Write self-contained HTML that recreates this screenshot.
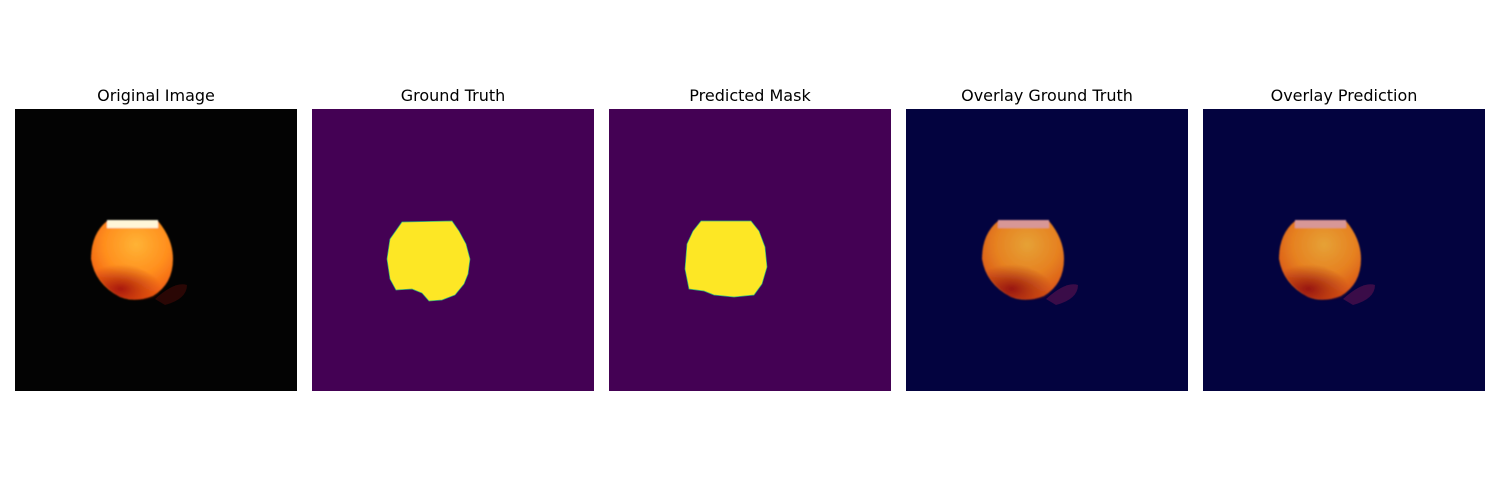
<!DOCTYPE html>
<html><head><meta charset="utf-8"><style>
body{margin:0;background:#fff;width:1500px;height:500px;position:relative;overflow:hidden;font-family:"DejaVu Sans","Liberation Sans",sans-serif;}
.t{position:absolute;top:86px;width:282px;text-align:center;font-size:16px;color:#000;font-family:"DejaVu Sans","Liberation Sans",sans-serif;}
svg{position:absolute;top:109px;width:282px;height:282px;}
</style></head><body>
<svg width="0" height="0" style="position:absolute">
<defs>
<radialGradient id="eg" cx="0.55" cy="0.3" r="0.7">
<stop offset="0" stop-color="#ffb335"/><stop offset="0.55" stop-color="#ff8f1e"/><stop offset="1" stop-color="#f05a10"/>
</radialGradient>
<radialGradient id="dk" cx="0.4" cy="0.75" r="0.55">
<stop offset="0" stop-color="#a01008" stop-opacity="0.9"/><stop offset="1" stop-color="#a01008" stop-opacity="0"/>
</radialGradient>
<filter id="bl"><feGaussianBlur stdDeviation="0.8"/></filter>
</defs>
</svg>

<div class="t" style="left:15px">Original Image</div>
<div class="t" style="left:312px">Ground Truth</div>
<div class="t" style="left:609px">Predicted Mask</div>
<div class="t" style="left:906px">Overlay Ground Truth</div>
<div class="t" style="left:1203px">Overlay Prediction</div>

<svg style="left:15px" viewBox="0 0 282 282">
<rect width="282" height="282" fill="#030303"/>
<path d="M140,190 Q160,172 172,176 Q172,190 150,196Z" fill="#2a0705"/>
<g filter="url(#bl)">
<path d="M92,112 L143,112 Q158,130 158,150 Q158,175 138,187 Q120,194 105,188 Q80,175 76,150 Q76,125 92,112Z" fill="url(#eg)"/>
<path d="M76,150 Q100,140 125,160 Q150,170 150,185 Q130,195 105,188 Q82,175 76,150Z" fill="url(#dk)"/>
<rect x="92" y="111" width="51" height="8" fill="#fff6d8"/>
</g>
</svg>

<svg style="left:312px" viewBox="0 0 282 282">
<rect width="282" height="282" fill="#440154"/>
<path d="M90,113 L140,112 L147,122 L154,135 L158,150 L156,165 L152,175 L143,186 L130,191 L117,192 L110,184 L100,180 L84,181 L78,170 L75,150 L78,130 Z" fill="#fde725" stroke="#35b779" stroke-width="0.7"/>
</svg>

<svg style="left:609px" viewBox="0 0 282 282">
<rect width="282" height="282" fill="#440154"/>
<path d="M92,112 L142,112 L150,122 L156,138 L158,158 L153,175 L145,186 L125,188 L105,186 L95,182 L80,180 L76,160 L78,135 L84,122 Z" fill="#fde725" stroke="#35b779" stroke-width="0.7"/>
</svg>

<svg style="left:906px" viewBox="0 0 282 282">
<rect width="282" height="282" fill="#03033f"/>
<path d="M140,190 Q160,172 172,176 Q172,190 150,196Z" fill="#3a0c48"/>
<g filter="url(#bl)" opacity="0.9">
<path d="M92,112 L143,112 Q158,130 158,150 Q158,175 138,187 Q120,194 105,188 Q80,175 76,150 Q76,125 92,112Z" fill="url(#eg)"/>
<path d="M76,150 Q100,140 125,160 Q150,170 150,185 Q130,195 105,188 Q82,175 76,150Z" fill="url(#dk)"/>
<rect x="92" y="111" width="51" height="8" fill="#f0a8a0"/>
</g>
</svg>

<svg style="left:1203px" viewBox="0 0 282 282">
<rect width="282" height="282" fill="#03033f"/>
<path d="M140,190 Q160,172 172,176 Q172,190 150,196Z" fill="#3a0c48"/>
<g filter="url(#bl)" opacity="0.9">
<path d="M92,112 L143,112 Q158,130 158,150 Q158,175 138,187 Q120,194 105,188 Q80,175 76,150 Q76,125 92,112Z" fill="url(#eg)"/>
<path d="M76,150 Q100,140 125,160 Q150,170 150,185 Q130,195 105,188 Q82,175 76,150Z" fill="url(#dk)"/>
<rect x="92" y="111" width="51" height="8" fill="#f0a8a0"/>
</g>
</svg>
</body></html>
